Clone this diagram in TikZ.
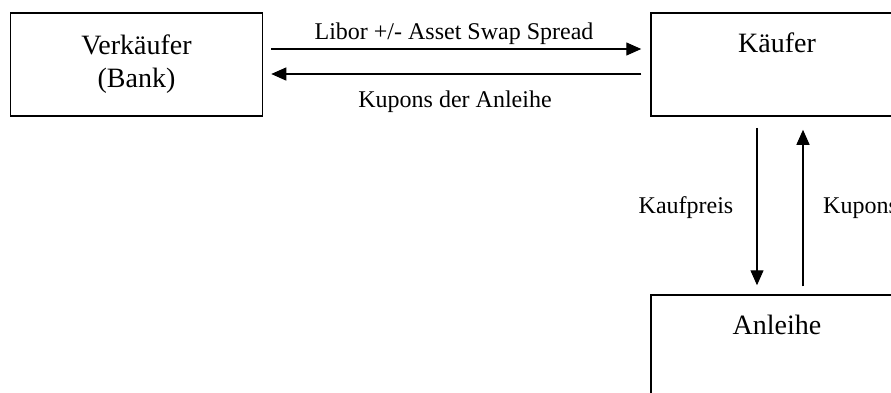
\documentclass[tikz,border=0pt]{standalone}
\usepackage{fontspec}
\setmainfont{Liberation Serif}
\usetikzlibrary{arrows.meta,positioning,calc}

\tikzset{
  party/.style={draw, line width=1.5pt, rectangle, minimum width=252pt, minimum height=103pt,
    align=center, font=\fontsize{28}{33}\selectfont, inner sep=0pt},
  flow/.style={line width=1.3pt, -{Triangle[length=15pt,width=13pt]}},
  flowlabel/.style={font=\fontsize{24}{28}\selectfont, inner sep=0pt}
}

\begin{document}
\begin{tikzpicture}[x=1pt,y=-1pt]
				\useasboundingbox (0,0) rectangle (891,392);
				\clip (0,0) rectangle (891,392);
				
				% Boxes
				\node[party] (verk) at (136.5,64.5) {Verkäufer\\(Bank)};
				\node[party] (kaeufer) at (777,64.5) {Käufer\\[10pt]\mbox{}};
				\node[party] (anleihe) at (777,346.5) {Anleihe\\[10pt]\mbox{}};
				
				% Horizontal flows
				\draw[flow] ([xshift=8pt,yshift=15.5pt]verk.east) -- ([xshift=-9pt,yshift=15.5pt]kaeufer.west);
				\draw[flow] ([xshift=-9pt,yshift=-9.5pt]kaeufer.west) -- ([xshift=8pt,yshift=-9.5pt]verk.east);
				
				% Vertical flows
				\draw[flow] ([xshift=-20pt,yshift=-11pt]kaeufer.south) -- ([xshift=-20pt,yshift=9pt]anleihe.north);
				\draw[flow] ([xshift=26pt,yshift=8pt]anleihe.north) -- ([xshift=26pt,yshift=-13pt]kaeufer.south);
				
				% Labels
				\node[flowlabel, anchor=base] (libor) at (454,39) {Libor +/- Asset Swap Spread};
				\node[flowlabel, anchor=base] (kupons) at (455,107) {Kupons der Anleihe};
				\node[flowlabel, anchor=base] (preis) at (686,213) {Kaufpreis};
				\node[flowlabel, anchor=base west] (kuponsb) at (823,213) {Kupons};
			\end{tikzpicture}
\end{document}
